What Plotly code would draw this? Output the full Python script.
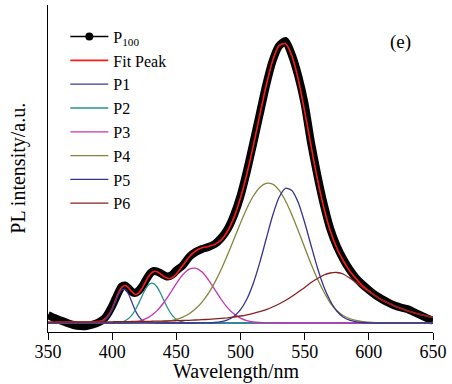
import plotly.graph_objects as go

# common wavelength grid (nm)
wl = [350, 355, 360, 365, 370, 375, 380, 385,
      390, 392.5, 395, 397.5, 400, 402.5, 405, 407.5, 410, 412.5, 415, 417.5, 420, 422.5,
      425, 427.5, 430, 432.5, 435, 437.5, 440, 442.5, 445, 447.5, 450,
      455, 460, 465, 470, 475, 480, 485, 490, 495, 500, 505, 510, 515, 520, 525, 530, 535,
      540, 545, 550, 555, 560, 565, 570, 575, 580, 585, 590, 595, 600, 605, 610, 615, 620,
      625, 630, 635, 640, 645, 650]

p100 = [8, 5, 2.5, 0, -2, -3, -3, -1.5,
        1, 3, 6, 11, 17, 24, 31, 36.5, 37.5, 35, 31.5, 30, 31.5, 35,
        40, 45.5, 50, 52, 51.5, 50, 48, 46.5, 47, 49, 52.5,
        57.5, 66, 71, 74, 76, 79, 85, 94, 108, 127, 152, 180, 209, 238, 262, 277, 282,
        268, 247, 219, 180, 147, 118, 94, 77, 64, 53.5, 45, 38.5, 33, 28, 24, 20.5, 17.5,
        15.5, 14, 11, 8, 5, 2]

p1 = [0, 0, 0, 0, 0, 0, 0, 0.1,
      0.6, 1.4, 3.6, 7.4, 13.2, 21, 28.6, 33.4, 33.6, 29.5, 22, 14, 7.8, 3.8,
      1.5, 0.6, 0.2, 0.1, 0, 0, 0, 0, 0, 0, 0,
      0, 0, 0, 0, 0, 0, 0, 0, 0, 0, 0, 0, 0, 0, 0, 0, 0,
      0, 0, 0, 0, 0, 0, 0, 0, 0, 0, 0, 0, 0, 0, 0, 0, 0,
      0, 0, 0, 0, 0, 0]

p2 = [0, 0, 0, 0, 0, 0, 0, 0,
      0, 0, 0, 0, 0.1, 0.2, 0.5, 1.0, 2.2, 4.2, 7.4, 12, 18, 24.8,
      31.5, 36.9, 39.7, 39.4, 36, 30.3, 23.4, 16.7, 11, 6.6, 3.7,
      0.9, 0.15, 0, 0, 0, 0, 0, 0, 0, 0, 0, 0, 0, 0, 0, 0, 0,
      0, 0, 0, 0, 0, 0, 0, 0, 0, 0, 0, 0, 0, 0, 0, 0, 0,
      0, 0, 0, 0, 0, 0]

p3 = [0, 0, 0, 0, 0, 0, 0, 0,
      0, 0, 0, 0, 0, 0, 0, 0, 0.3, 0.5, 0.7, 1.1, 1.7, 2.5,
      3.6, 5.1, 7, 9.5, 12.4, 16, 20, 24.6, 29.3, 34.4, 39.4,
      48.2, 53.8, 54.8, 50.9, 43.1, 33.4, 23.5, 15.1, 8.9, 4.8, 2.3, 1, 0.5, 0.2, 0.1, 0, 0,
      0, 0, 0, 0, 0, 0, 0, 0, 0, 0, 0, 0, 0, 0, 0, 0, 0,
      0, 0, 0, 0, 0, 0]

p4 = [0, 0, 0, 0, 0, 0, 0, 0,
      0, 0, 0, 0, 0, 0, 0, 0, 0, 0, 0, 0.1, 0.2, 0.3,
      0.4, 0.5, 0.6, 0.8, 1.0, 1.1, 1.2, 1.6, 2.1, 2.8, 3.6,
      5.9, 9.3, 14.2, 20.9, 29.6, 40.6, 53.7, 68.5, 84.2, 100.1, 114.8, 127, 135.6, 139.7, 138.8, 132.8, 122.2,
      108.2, 92.2, 75.6, 59, 44, 31, 20, 12.5, 7.5, 4.5, 2.5, 1.4, 0.8, 0.4, 0.2, 0, 0,
      0, 0, 0, 0, 0, 0]

p5 = [0, 0, 0, 0, 0, 0, 0, 0,
      0, 0, 0, 0, 0, 0, 0, 0, 0, 0, 0, 0, 0, 0,
      0, 0, 0, 0, 0, 0, 0, 0, 0, 0, 0,
      0, 0, 0, 0.1, 0.2, 0.5, 1.35, 3.2, 6.8, 13.3, 24, 39.8, 60.4, 84, 107.2, 125.5, 134.7,
      132.6, 120.5, 100.5, 77.5, 55, 36, 22, 12, 6, 2.8, 1.2, 0.5, 0.2, 0, 0, 0, 0,
      0, 0, 0, 0, 0, 0]

p6 = [0.8, 0.8, 0.9, 0.9, 1, 1, 1, 1.1,
      1.1, 1.1, 1.2, 1.2, 1.2, 1.3, 1.3, 1.3, 1.4, 1.4, 1.5, 1.5, 1.5, 1.6,
      1.6, 1.7, 1.7, 1.8, 1.8, 1.9, 2, 2, 2.1, 2.2, 2.3,
      2.5, 2.7, 3, 3.3, 3.7, 4.1, 4.6, 5.2, 6, 7, 8.2, 9.6, 11.3, 13.4, 16, 19, 22.5,
      26.5, 31, 35.5, 40.5, 44.5, 48, 50, 50.5, 49, 45, 40.5, 35.5, 31, 27, 23, 20, 17,
      14.5, 12.2, 10.2, 8.5, 7, 5.8]

components = [("P1", p1, "#3a3a98"), ("P2", p2, "#2a9090"), ("P3", p3, "#c634b6"),
              ("P4", p4, "#85853a"), ("P5", p5, "#34348f"), ("P6", p6, "#862020")]

fit = [sum(vals) for vals in zip(p1, p2, p3, p4, p5, p6)]

SERIF = "Liberation Serif, Times New Roman, serif"

fig = go.Figure()

# legend proxy for the measured data
fig.add_trace(go.Scatter(x=[None], y=[None], mode="lines+markers", name="P<sub>100</sub>",
                         line=dict(color="black", width=1.5), marker=dict(color="black", size=8),
                         legendgroup="d"))
fig.add_trace(go.Scatter(x=wl, y=p100, mode="lines", showlegend=False, legendgroup="d",
                         line=dict(color="black", width=8, shape="spline", smoothing=0.6)))
fig.add_trace(go.Scatter(x=wl, y=fit, mode="lines", name="Fit Peak", legendgroup="f",
                         line=dict(color="#ff1a1a", width=1.6, shape="spline", smoothing=0.6)))
for name, vals, col in components:
    fig.add_trace(go.Scatter(x=wl, y=vals, mode="lines", name=name, legendgroup=name,
                             line=dict(color=col, width=1.3, shape="spline", smoothing=0.6)))

fig.update_layout(
    width=452, height=384,
    margin=dict(l=48, r=16, t=5, b=52),
    paper_bgcolor="white", plot_bgcolor="white",
    font=dict(family=SERIF, color="black"),
    showlegend=True,
    legend=dict(x=0.045, y=0.955, xanchor="left", yanchor="top", bgcolor="rgba(0,0,0,0)",
                font=dict(family=SERIF, size=16, color="black"), tracegroupgap=0,
                itemwidth=38),
    xaxis=dict(range=[350, 650], tickvals=[350, 400, 450, 500, 550, 600, 650],
               ticks="outside", ticklen=7, tickwidth=1, tickcolor="black",
               ticklabelstandoff=-4,
               showline=True, linecolor="black", linewidth=1.2, showgrid=False, zeroline=False,
               tickfont=dict(family=SERIF, size=18, color="black")),
    yaxis=dict(range=[-9, 318], showticklabels=False, ticks="", showline=True,
               linecolor="black", linewidth=1.2, showgrid=False, zeroline=False),
    annotations=[
        dict(text="(e)", x=0.915, y=0.887, xref="paper", yref="paper", showarrow=False,
             xanchor="center", yanchor="middle",
             font=dict(family=SERIF, size=19, color="black")),
        dict(text="Wavelength/nm", x=0.49, y=-0.12, xref="paper", yref="paper", showarrow=False,
             xanchor="center", yanchor="middle",
             font=dict(family=SERIF, size=20, color="black")),
        dict(text="PL intensity/a.u.", x=-0.0773, y=0.5, xref="paper", yref="paper",
             xanchor="center", yanchor="middle",
             showarrow=False, textangle=-90, font=dict(family=SERIF, size=20, color="black")),
    ],
)

fig.write_html("out.html", config={"displayModeBar": False},
               post_script="document.body.style.margin='0';")
